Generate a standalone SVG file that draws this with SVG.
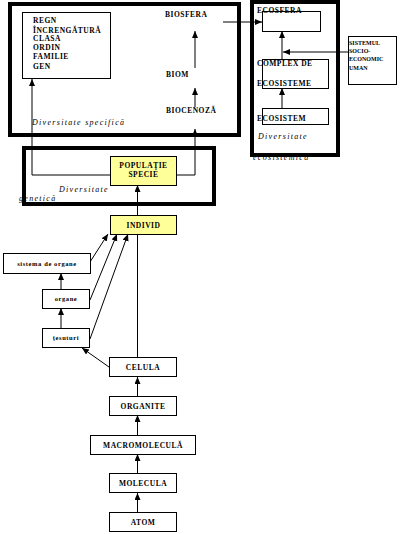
<svg xmlns="http://www.w3.org/2000/svg" width="409" height="534" viewBox="0 0 409 534">
<defs>
<marker id="ah" markerUnits="userSpaceOnUse" markerWidth="8" markerHeight="7" refX="7" refY="3" orient="auto">
<path d="M0,0 L7,3 L0,6 z" fill="#000"/>
</marker>
<style>
.t{font-family:"Liberation Serif",serif;font-weight:bold;font-size:7.5px;letter-spacing:0.5px;fill:#000}
.s{font-family:"Liberation Serif",serif;font-weight:bold;font-size:6.5px;letter-spacing:0.6px;fill:#000}
.u{font-family:"Liberation Serif",serif;font-weight:bold;font-size:6px;fill:#000}
.i{font-family:"Liberation Serif",serif;font-style:italic;font-size:8px;letter-spacing:1.3px;fill:#000}
.b{fill:#fff;stroke:#000;stroke-width:1}
.y{fill:#ffff99;stroke:#000;stroke-width:1}
.k{fill:none;stroke:#000;stroke-width:4}
.c{fill:none;stroke:#000;stroke-width:1}
.a{fill:none;stroke:#000;stroke-width:1;marker-end:url(#ah)}
</style>
</defs>
<rect width="409" height="534" fill="#fff"/>

<g id="frame-specifica">
<text class="i" x="32" y="125">Diversitate specifică</text>
<rect class="k" x="10" y="4" width="229" height="131"/>
</g>
<g id="frame-ecosistemica">
<text class="i" x="258" y="139">Diversitate</text>
<text class="i" x="253" y="160">ecosistemică</text>
<rect class="k" x="252" y="2" width="86" height="153"/>
</g>
<g id="frame-genetica">
<text class="i" x="59" y="192">Diversitate</text>
<text class="i" x="19" y="201">genetică</text>
<rect class="k" x="24" y="148" width="190" height="56"/>
</g>

<g id="connectors">
<line class="a" x1="195" y1="68" x2="195" y2="31"/>
<line class="a" x1="195" y1="107" x2="195" y2="88"/>
<polyline class="a" points="176,175 195,175 195,129"/>
<polyline class="a" points="110,175 32,175 32,79"/>
<line class="a" x1="223" y1="22" x2="262" y2="22"/>
<line class="a" x1="282" y1="59" x2="282" y2="31"/>
<line class="a" x1="282" y1="108" x2="282" y2="88"/>
<line class="a" x1="348" y1="52" x2="283" y2="52"/>
<line class="a" x1="137.5" y1="215" x2="137.5" y2="185"/>
<line class="c" x1="137.5" y1="357" x2="137.5" y2="234"/>
<line class="a" x1="90" y1="262" x2="108" y2="234"/>
<line class="a" x1="90" y1="300" x2="117" y2="234"/>
<line class="a" x1="90" y1="339" x2="128" y2="234"/>
<line class="a" x1="61" y1="289" x2="61" y2="273"/>
<line class="a" x1="61" y1="328" x2="61" y2="308"/>
<line class="a" x1="109" y1="367" x2="82" y2="348"/>
<line class="a" x1="137.5" y1="396" x2="137.5" y2="377"/>
<line class="a" x1="137.5" y1="435" x2="137.5" y2="415"/>
<line class="a" x1="137.5" y1="473" x2="137.5" y2="454"/>
<line class="a" x1="137.5" y1="512" x2="137.5" y2="493"/>
</g>

<g id="taxoni">
<rect class="b" x="22.5" y="12.5" width="88" height="66"/>
<text class="t" x="33" y="23">REGN</text>
<text class="t" x="33" y="32.5">ÎNCRENGĂTURĂ</text>
<text class="t" x="33" y="41">CLASA</text>
<text class="t" x="33" y="50">ORDIN</text>
<text class="t" x="33" y="59">FAMILIE</text>
<text class="t" x="33" y="69">GEN</text>
</g>
<g id="biosfera"><text class="t" x="165" y="17">BIOSFERA</text></g>
<g id="biom"><text class="t" x="166" y="77">BIOM</text></g>
<g id="biocenoza"><text class="t" x="166" y="113">BIOCENOZĂ</text></g>

<g id="ecosfera">
<rect class="b" x="262.5" y="11.5" width="58" height="20"/>
<text class="t" x="257" y="13">ECOSFERA</text>
</g>
<g id="complex">
<rect class="b" x="262.5" y="59.5" width="66" height="29"/>
<text class="t" x="257" y="66">COMPLEX DE</text>
<text class="t" x="257" y="86">ECOSISTEME</text>
</g>
<g id="ecosistem">
<rect class="b" x="262.5" y="108.5" width="66" height="16"/>
<text class="t" x="257" y="121">ECOSISTEM</text>
</g>
<g id="sistemul">
<rect class="b" x="348.5" y="36.5" width="48" height="48"/>
<text class="u" x="349" y="45">SISTEMUL</text>
<text class="u" x="349" y="53">SOCIO-</text>
<text class="u" x="349" y="61">ECONOMIC</text>
<text class="u" x="349" y="70">UMAN</text>
</g>

<g id="populatie">
<rect class="y" x="110.5" y="156.5" width="66" height="29"/>
<text class="t" x="143.5" y="168" text-anchor="middle">POPULAŢIE</text>
<text class="t" x="143.5" y="177" text-anchor="middle">SPECIE</text>
</g>
<g id="individ">
<rect class="y" x="110.5" y="215.5" width="66" height="19"/>
<text class="t" x="143.5" y="228" text-anchor="middle">INDIVID</text>
</g>
<g id="sistema">
<rect class="b" x="3.5" y="253.5" width="87" height="20"/>
<text class="s" x="47" y="266" text-anchor="middle">sistema de organe</text>
</g>
<g id="organe">
<rect class="b" x="42.5" y="289.5" width="47" height="19"/>
<text class="s" x="66" y="301" text-anchor="middle">organe</text>
</g>
<g id="tesuturi">
<rect class="b" x="42.5" y="328.5" width="47" height="19"/>
<text class="s" x="66" y="340" text-anchor="middle">ţesuturi</text>
</g>
<g id="celula">
<rect class="b" x="109.5" y="357.5" width="67" height="19"/>
<text class="t" x="143" y="370" text-anchor="middle">CELULA</text>
</g>
<g id="organite">
<rect class="b" x="109.5" y="396.5" width="67" height="19"/>
<text class="t" x="143" y="409" text-anchor="middle">ORGANITE</text>
</g>
<g id="macromolecula">
<rect class="b" x="90.5" y="435.5" width="105" height="19"/>
<text class="t" x="143" y="448" text-anchor="middle">MACROMOLECULĂ</text>
</g>
<g id="molecula">
<rect class="b" x="109.5" y="473.5" width="67" height="19"/>
<text class="t" x="143" y="486" text-anchor="middle">MOLECULA</text>
</g>
<g id="atom">
<rect class="b" x="109.5" y="512.5" width="67" height="19"/>
<text class="t" x="143" y="525" text-anchor="middle">ATOM</text>
</g>
</svg>
